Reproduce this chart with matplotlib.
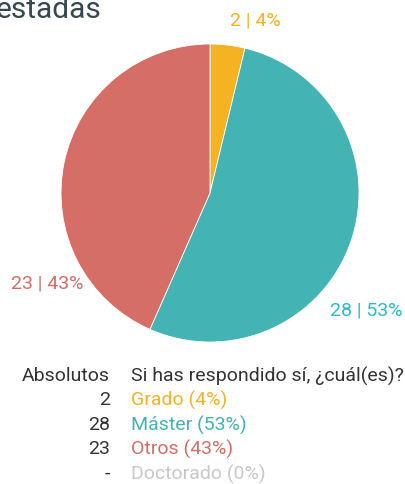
import matplotlib
matplotlib.use("Agg")
import matplotlib.pyplot as plt

# Data
categories = ["Grado", "Máster", "Otros", "Doctorado"]
counts = [2, 28, 23, 0]
percents = [4, 53, 43, 0]
colors = ["#F5B324", "#44B3B3", "#D46E66", "#C8C8C8"]
label_colors = ["#F5B324", "#2BBBCC", "#D46E66", "#C8C8C8"]
title_text = "estadas"
col1_header = "Absolutos"
col2_header = "Si has respondido sí, ¿cuál(es)?"

W, H = 405, 485
fig = plt.figure(figsize=(W / 100, H / 100), dpi=100)
plt.rcParams['font.family'] = ['Roboto', 'DejaVu Sans']

# overlay axes in pixel coords
ov = fig.add_axes([0, 0, 1, 1])
ov.set_xlim(0, W)
ov.set_ylim(H, 0)
ov.axis("off")

# pie axes
cx, cy, r = 210, 194, 149
pa = fig.add_axes([(cx - r) / W, (H - cy - r) / H, 2 * r / W, 2 * r / H])
vals = [c for c in counts if c > 0]
cols = [colors[i] for i, c in enumerate(counts) if c > 0]
pa.pie(vals, colors=cols, startangle=90, counterclock=False,
       wedgeprops=dict(edgecolor="white", linewidth=0.6))
pa.set_xlim(-1, 1)
pa.set_ylim(-1, 1)
pa.set_aspect("equal")

# slice labels
fs = 14
label_pos = [(255, 21, "center"), (366, 311, "center"), (47, 284, "center")]
for i, (x, y, ha) in enumerate(label_pos):
    ov.text(x, y, f"{counts[i]} | {percents[i]}%", color=label_colors[i],
            fontsize=fs, ha=ha, va="center")

# title (slightly clipped at the left edge, as in the reference)
ov.text(101, 18, title_text, color="#37474F", fontsize=21.5, ha="right",
        va="baseline")

# legend table
y0 = 376
dy = 24.5
ov.text(110, y0, col1_header, color="#333333", fontsize=fs, ha="right", va="center")
ov.text(131, y0, col2_header, color="#333333", fontsize=fs, ha="left", va="center")
for i, cat in enumerate(categories):
    y = y0 + dy * (i + 1)
    num = str(counts[i]) if counts[i] > 0 else "-"
    ov.text(110, y, num, color="#333333", fontsize=fs, ha="right", va="center")
    ov.text(131, y, f"{cat} ({percents[i]}%)", color=label_colors[i] if i != 1 else colors[1],
            fontsize=fs, ha="left", va="center")

fig.savefig("out.png", dpi=100)
